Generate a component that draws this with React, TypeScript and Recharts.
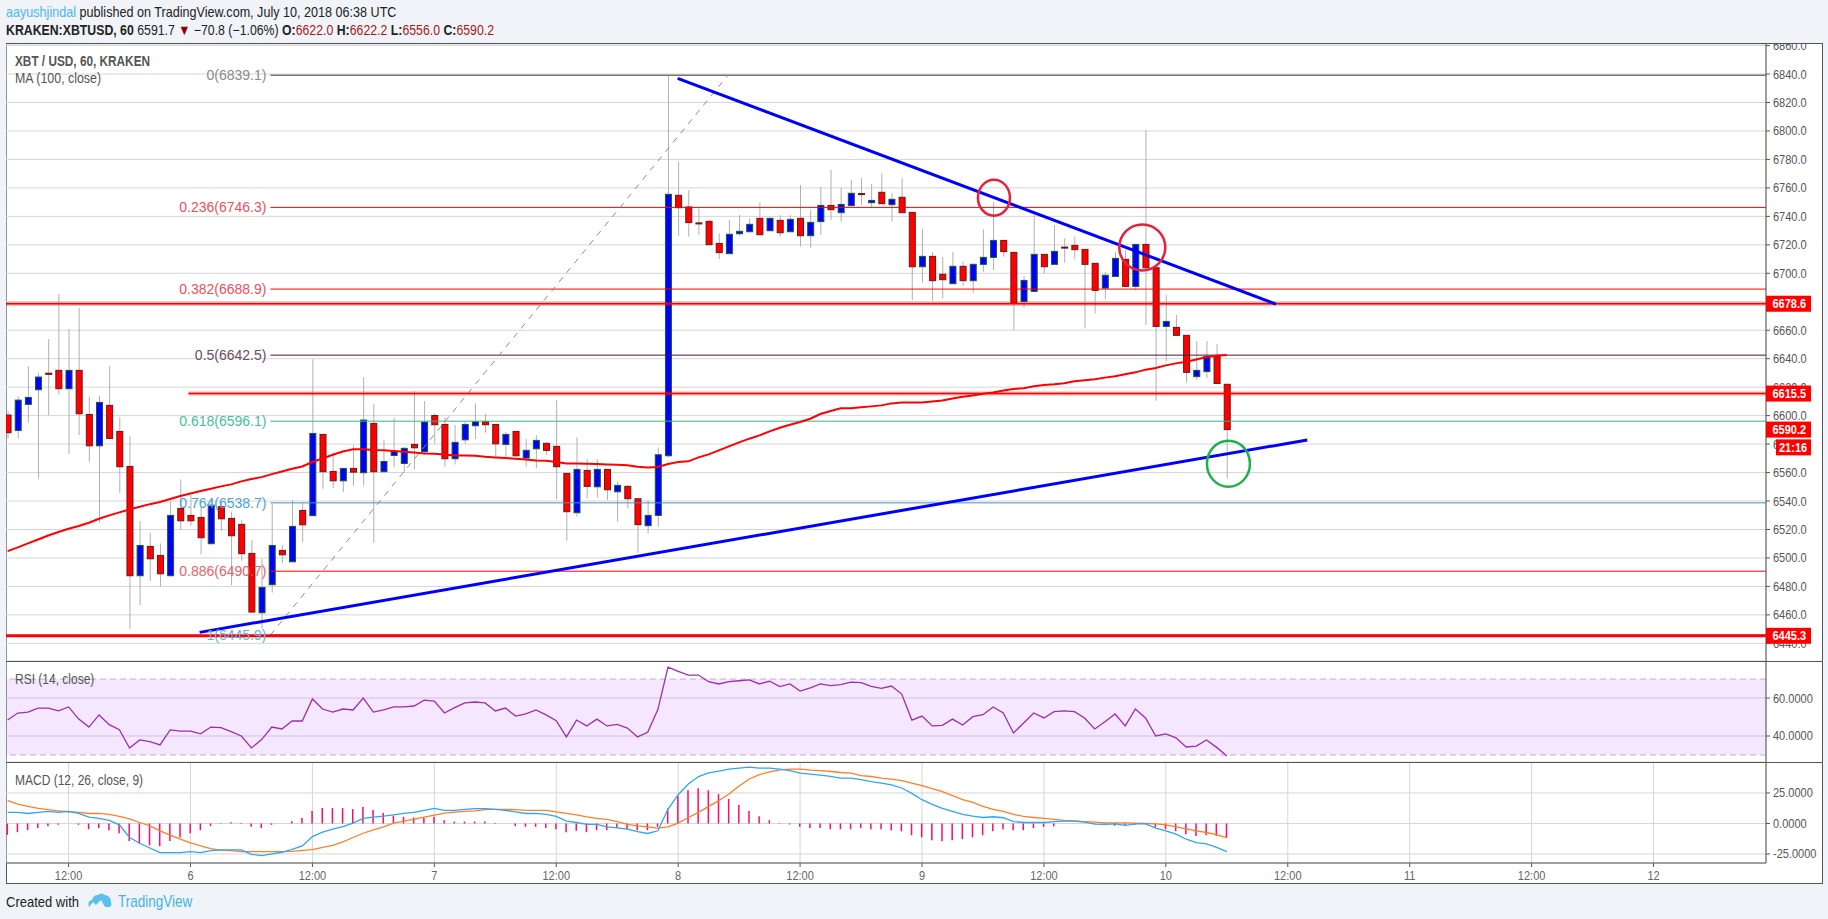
import { Bar, CartesianGrid, ComposedChart, Line, ReferenceArea, ReferenceDot, ReferenceLine, XAxis, YAxis } from 'recharts';

// hours counted from July 6 00:00, first candle is -18
const firstHour = -18;

const opens = [
  6600.4, 6589.6, 6607.9, 6618.2, 6629.8, 6631.8, 6618.9, 6631.8, 6600.8, 6578.8,
  6607.2, 6588.9, 6564.3, 6487.5, 6508.1, 6501.8, 6487.5, 6534.8, 6529.9, 6528.5,
  6510.0, 6536.0, 6527.8, 6523.6, 6503.2, 6461.5, 6481.2, 6505.3, 6497.3, 6533.4,
  6529.7, 6586.8, 6560.8, 6554.2, 6562.9, 6559.9, 6594.5, 6560.6, 6572.0, 6566.4,
  6579.8, 6574.6, 6600.1, 6593.8, 6569.7, 6583.0, 6592.9, 6595.7, 6593.8, 6579.8,
  6588.9, 6570.2, 6576.7, 6580.5, 6578.4, 6559.4, 6531.8, 6561.5, 6550.0, 6562.2,
  6546.5, 6550.3, 6541.6, 6522.7, 6529.9, 6571.8, 6754.8, 6746.6, 6735.4, 6736.5,
  6721.0, 6713.8, 6727.8, 6729.2, 6738.6, 6729.9, 6737.2, 6729.2, 6738.6, 6726.4,
  6736.3, 6747.7, 6742.6, 6747.5, 6756.0, 6749.6, 6756.9, 6748.2, 6753.4, 6742.8,
  6704.6, 6711.9, 6699.3, 6692.7, 6704.9, 6694.8, 6706.3, 6711.2, 6723.1, 6714.7,
  6680.1, 6687.3, 6713.3, 6706.3, 6718.4, 6719.6, 6716.8, 6707.0, 6689.6, 6697.8,
  6709.8, 6690.8, 6720.3, 6703.9, 6662.7, 6662.0, 6656.4, 6627.4, 6630.9, 6641.6, 6622.0,
];
const closes = [
  6588.0, 6610.9, 6612.8, 6627.1, 6629.0, 6618.9, 6631.8, 6601.3, 6578.8, 6609.3,
  6584.0, 6564.1, 6487.5, 6508.8, 6499.4, 6488.9, 6529.9, 6526.1, 6526.1, 6514.2,
  6537.1, 6527.5, 6515.6, 6503.0, 6462.0, 6479.3, 6508.8, 6502.2, 6522.2, 6523.3,
  6587.5, 6560.6, 6554.2, 6562.9, 6560.3, 6596.9, 6560.6, 6567.8, 6574.9, 6577.0,
  6577.4, 6595.5, 6593.6, 6569.7, 6581.2, 6593.8, 6595.7, 6593.6, 6580.2, 6586.8,
  6571.8, 6575.6, 6582.6, 6575.6, 6564.1, 6532.5, 6562.2, 6550.3, 6562.2, 6547.9,
  6551.0, 6541.6, 6523.4, 6529.9, 6572.5, 6755.5, 6746.1, 6735.6, 6734.8, 6720.1,
  6714.5, 6727.4, 6729.5, 6734.4, 6727.1, 6738.6, 6728.5, 6737.9, 6726.4, 6735.8,
  6747.7, 6744.7, 6748.4, 6756.2, 6755.4, 6751.2, 6748.9, 6752.0, 6742.6, 6704.6,
  6711.9, 6694.8, 6695.5, 6704.9, 6694.8, 6706.3, 6711.2, 6723.1, 6715.2, 6679.4,
  6695.0, 6713.3, 6704.6, 6715.4, 6718.0, 6716.6, 6706.3, 6688.0, 6698.6, 6710.5,
  6690.8, 6720.3, 6703.9, 6662.7, 6666.2, 6656.4, 6630.4, 6631.8, 6641.6, 6622.6, 6590.2,
];
const highs = [
  6603.0, 6613.7, 6634.8, 6629.7, 6653.8, 6685.4, 6660.8, 6675.6, 6613.3, 6614.0,
  6634.8, 6598.7, 6585.6, 6525.9, 6517.7, 6510.2, 6540.2, 6555.2, 6544.2, 6536.0,
  6540.7, 6538.3, 6532.5, 6526.6, 6512.6, 6499.4, 6538.3, 6509.0, 6540.7, 6539.0,
  6639.7, 6586.8, 6574.1, 6562.9, 6579.3, 6627.1, 6608.1, 6582.8, 6598.7, 6578.1,
  6617.2, 6610.2, 6601.6, 6598.7, 6593.4, 6595.7, 6608.6, 6601.6, 6593.8, 6588.7,
  6588.9, 6583.5, 6586.1, 6581.6, 6610.9, 6559.4, 6584.7, 6569.5, 6569.5, 6562.2,
  6553.6, 6551.2, 6541.6, 6540.7, 6577.7, 6839.1, 6778.2, 6758.5, 6745.6, 6737.4,
  6728.1, 6737.4, 6740.9, 6738.6, 6749.8, 6739.3, 6740.9, 6740.9, 6762.0, 6744.5,
  6760.8, 6772.6, 6760.2, 6765.5, 6766.9, 6762.7, 6770.2, 6756.2, 6766.9, 6742.8,
  6730.9, 6715.0, 6711.4, 6714.9, 6708.2, 6706.3, 6730.9, 6749.8, 6723.1, 6714.7,
  6698.1, 6740.9, 6713.3, 6733.9, 6724.6, 6725.7, 6716.8, 6707.0, 6700.9, 6714.9,
  6716.4, 6720.3, 6800.7, 6703.9, 6684.7, 6670.7, 6656.4, 6652.4, 6652.4, 6650.3, 6622.2,
];
const lows = [
  6584.0, 6583.8, 6595.0, 6555.9, 6600.4, 6615.1, 6573.0, 6586.3, 6567.6, 6525.0,
  6583.5, 6545.8, 6450.0, 6466.9, 6483.8, 6480.2, 6487.5, 6519.6, 6522.6, 6502.7,
  6510.0, 6518.9, 6480.9, 6498.0, 6461.5, 6450.5, 6475.6, 6496.2, 6497.3, 6511.2,
  6529.7, 6548.6, 6549.1, 6546.3, 6550.7, 6550.7, 6510.7, 6560.6, 6563.8, 6559.9,
  6562.4, 6572.7, 6580.5, 6564.1, 6565.7, 6580.5, 6583.5, 6588.0, 6570.4, 6571.1,
  6571.1, 6564.1, 6563.1, 6572.3, 6541.1, 6512.1, 6529.0, 6541.8, 6542.3, 6540.7,
  6525.4, 6534.8, 6503.7, 6517.3, 6522.0, 6570.7, 6726.4, 6725.7, 6726.9, 6720.1,
  6710.0, 6713.8, 6726.4, 6729.2, 6727.1, 6729.9, 6725.7, 6729.2, 6718.7, 6718.0,
  6726.9, 6737.4, 6736.3, 6747.5, 6748.0, 6746.1, 6748.9, 6736.3, 6742.6, 6681.2,
  6693.4, 6680.8, 6682.2, 6692.7, 6691.1, 6686.4, 6701.1, 6702.3, 6711.7, 6660.1,
  6675.8, 6687.3, 6699.9, 6706.3, 6707.5, 6709.8, 6661.3, 6671.9, 6681.7, 6697.8,
  6690.8, 6687.8, 6663.7, 6610.5, 6637.9, 6656.4, 6623.2, 6625.0, 6626.2, 6622.6, 6556.0,
];
const ma100 = [
  6504.8, 6507.4, 6510.2, 6513.0, 6515.8, 6518.2, 6520.5, 6522.4, 6524.7, 6527.5,
  6529.9, 6532.0, 6534.1, 6536.0, 6537.8, 6539.3, 6541.4, 6543.5, 6545.3, 6547.0,
  6548.6, 6550.3, 6551.7, 6553.8, 6555.4, 6556.8, 6558.9, 6560.8, 6562.7, 6564.3,
  6567.4, 6569.9, 6572.5, 6574.8, 6576.3, 6576.3, 6575.8, 6575.6, 6575.1, 6574.6,
  6574.1, 6573.4, 6573.2, 6572.7, 6572.0, 6572.0, 6571.8, 6571.1, 6570.6, 6570.2,
  6569.7, 6569.2, 6568.5, 6568.3, 6567.4, 6566.4, 6566.4, 6566.2, 6566.0, 6565.7,
  6565.5, 6565.1, 6564.1, 6563.6, 6563.9, 6566.0, 6567.4, 6567.9, 6570.7, 6572.8,
  6575.6, 6578.4, 6581.2, 6583.8, 6586.1, 6588.9, 6591.5, 6593.6, 6595.5, 6597.8,
  6601.1, 6603.2, 6605.1, 6605.1, 6605.8, 6606.5, 6607.2, 6608.6, 6609.3, 6609.3,
  6609.3, 6610.0, 6610.7, 6612.1, 6613.3, 6614.2, 6615.4, 6616.3, 6617.7, 6618.7,
  6619.2, 6620.6, 6621.5, 6622.0, 6622.7, 6624.1, 6624.8, 6625.5, 6626.7, 6627.6,
  6629.0, 6630.4, 6632.3, 6633.4, 6635.3, 6636.7, 6637.9, 6639.5, 6641.2, 6642.1, 6642.6,
];
const rsi14 = [
  48.4, 52.1, 52.6, 54.7, 54.7, 53.2, 55.3, 48.9, 44.7, 51.1,
  46.0, 43.3, 33.7, 37.9, 37.0, 35.3, 43.2, 42.6, 42.6, 41.1,
  44.7, 44.4, 42.3, 40.0, 33.7, 38.1, 44.7, 43.7, 47.9, 47.9,
  59.5, 54.2, 52.6, 54.2, 53.7, 60.0, 52.6, 53.7, 55.3, 55.3,
  55.8, 58.9, 58.4, 52.1, 54.9, 57.4, 57.9, 57.4, 53.2, 54.7,
  50.5, 51.6, 53.7, 51.1, 48.1, 39.5, 48.4, 45.3, 48.9, 45.3,
  46.1, 44.2, 39.5, 41.9, 53.9, 76.3, 74.0, 72.1, 72.1, 68.6,
  67.4, 68.6, 69.1, 69.6, 67.4, 68.9, 66.0, 67.4, 63.7, 65.4,
  67.4, 66.5, 67.0, 68.4, 68.1, 66.1, 65.1, 66.3, 62.1, 48.4,
  50.5, 45.3, 45.6, 48.9, 45.8, 50.2, 51.2, 55.3, 52.1, 41.6,
  46.8, 52.1, 49.5, 52.8, 53.2, 52.8, 49.5, 43.7, 47.5, 51.6,
  45.3, 54.2, 49.5, 40.0, 41.1, 39.0, 34.2, 34.7, 37.9, 34.0, 29.5,
];
const macdLine = [
  9.1, 9.1, 8.2, 9.1, 9.9, 9.1, 9.9, 8.2, 5.2, 4.1,
  2.5, -1.1, -11.5, -16.2, -20.1, -23.9, -23.9, -23.9, -23.1, -23.9,
  -22.3, -21.7, -21.7, -21.7, -25.3, -26.4, -25.0, -23.6, -21.2, -18.4,
  -10.7, -7.1, -4.7, -2.5, 0.3, 4.1, 5.2, 6.0, 7.1, 8.2,
  9.1, 10.7, 12.4, 10.7, 10.7, 11.5, 12.1, 12.1, 11.5, 10.7,
  9.6, 8.2, 8.2, 7.4, 5.8, 1.9, 0.8, -0.8, -0.8, -2.7,
  -3.6, -4.7, -6.6, -8.2, -6.0, 11.8, 23.6, 32.4, 38.5, 41.5,
  42.9, 44.5, 45.3, 46.2, 45.3, 45.3, 44.5, 43.4, 41.2, 40.4,
  39.6, 38.7, 37.1, 37.1, 36.0, 34.3, 33.0, 31.6, 29.1, 24.7,
  19.5, 15.7, 12.4, 9.9, 7.4, 6.0, 4.9, 5.5, 4.7, 1.6,
  0.8, 0.8, 0.8, 1.6, 1.9, 1.9, 1.1, -0.5, -0.8, -0.3,
  -1.6, -0.3, -0.3, -3.8, -6.0, -8.8, -12.9, -15.7, -16.8, -19.6, -23.1,
];
const signalLine = [
  18.7, 15.9, 14.0, 12.4, 11.3, 10.4, 9.6, 9.1, 8.2, 8.2,
  7.4, 5.8, 3.8, 0.8, -1.9, -6.0, -9.6, -12.9, -15.9, -18.4,
  -20.6, -22.0, -22.3, -23.1, -23.1, -23.1, -23.1, -23.1, -22.8, -22.0,
  -21.4, -19.5, -17.9, -15.1, -11.5, -8.0, -5.2, -2.7, 0.3, 1.9,
  3.6, 5.2, 6.9, 8.5, 9.3, 9.9, 10.4, 11.3, 11.5, 11.5,
  11.3, 10.7, 10.7, 10.7, 9.6, 8.2, 7.1, 5.5, 4.1, 3.3,
  1.6, -0.8, -1.9, -2.7, -3.8, -2.7, 0.3, 4.9, 9.1, 14.0,
  18.7, 24.2, 30.8, 36.5, 40.1, 42.3, 44.0, 44.5, 44.5, 43.7,
  43.4, 42.6, 41.8, 41.2, 39.3, 38.5, 37.1, 36.3, 35.2, 33.0,
  31.0, 28.6, 26.1, 22.8, 19.5, 17.3, 14.0, 11.5, 9.9, 7.4,
  5.8, 4.9, 4.1, 3.3, 2.5, 2.2, 1.6, 1.1, 0.5, 0.5,
  0.5, 0.3, 0, -0.3, -1.1, -2.7, -4.4, -6.0, -7.4, -9.1, -11.8,
];
const macdHist = [
  -9.3, -7.1, -5.5, -3.8, -2.2, -1.1, 0, -1.1, -4.7, -3.8,
  -5.5, -8.0, -14.3, -16.5, -17.9, -18.7, -14.3, -11.5, -8.0, -5.5,
  -2.2, 0.3, 1.1, 0.3, -2.7, -3.8, -1.1, 0, 1.9, 4.4,
  10.2, 12.6, 12.6, 12.6, 11.8, 13.5, 11.0, 8.5, 6.3, 5.5,
  4.9, 4.9, 5.5, 2.7, 1.6, 1.6, 1.6, 1.6, 0.3, 0,
  -2.2, -2.7, -2.7, -3.8, -4.7, -7.1, -6.0, -7.1, -5.5, -5.5,
  -3.8, -4.7, -5.5, -5.5, -2.7, 12.4, 22.8, 27.2, 28.8, 27.2,
  24.2, 20.1, 15.1, 10.2, 6.0, 2.7, 0.3, -0.8, -2.7, -3.8,
  -3.8, -4.7, -4.7, -4.7, -3.8, -4.7, -4.7, -5.5, -6.3, -9.6,
  -11.3, -13.7, -14.6, -13.7, -12.9, -11.3, -9.6, -6.3, -4.7, -5.5,
  -5.5, -3.8, -2.7, -2.2, 0, 0, 0, -0.3, -0.8, -1.9,
  -1.4, -1.1, 0, -3.0, -4.7, -6.3, -8.8, -10.2, -9.6, -10.2, -11.5,
];

const priceTicks = [6860, 6840, 6820, 6800, 6780, 6760, 6740, 6720, 6700, 6680, 6660, 6640, 6620, 6600, 6580, 6560, 6540, 6520, 6500, 6480, 6460, 6440];
const rsiTicks = [60, 40];
const macdTicks = [25, 0, -25];
const timeTicks = [-12, 0, 12, 24, 36, 48, 60, 72, 84, 96, 108, 120, 132, 144];
const timeLabels = ['12:00', '6', '12:00', '7', '12:00', '8', '12:00', '9', '12:00', '10', '12:00', '11', '12:00', '12'];

const fibRatios = ['0', '0.236', '0.382', '0.5', '0.618', '0.764', '0.886', '1'];
const fibPrices = [6839.1, 6746.3, 6688.9, 6642.5, 6596.1, 6538.7, 6490.7, 6445.9];
const FIB_COLORS = ['#787878', '#ff0000', '#ff0000', '#4a1440', '#35b58e', '#3a96c8', '#ff0000', '#5a7f9a'];
const FIB_TEXT = ['#8a8a8a', '#f0505a', '#f0505a', '#6d4a66', '#45c09a', '#4aa3d8', '#f0606a', '#64b0e0'];
const priceTags = [6678.6, 6615.5, 6590.2, 6445.3];

const rows = opens.map((open, i) => ({
  hour: firstHour + i,
  open,
  close: closes[i],
  high: highs[i],
  low: lows[i],
  ma: ma100[i],
  rsi: rsi14[i],
  macd: macdLine[i],
  signal: signalLine[i],
  hist: macdHist[i],
}));

const X_DOMAIN = [-18.16, 155.07];
const PRICE_DOMAIN = [6427.6, 6861.1];
const RSI_DOMAIN = [26.3, 79.5];
const MACD_DOMAIN = [-32.4, 50.4];
const CHART_WIDTH = 1816;
const AXIS_WIDTH = 56;
const GRID = '#d6d6d6';
const FRAME = '#555';
const FONT = '"Liberation Sans", Arial, sans-serif';

// the screenshot is squeezed sideways, so the text gets a small vertical stretch around its own baseline
const stretch = (y: number, s: number) => `translate(0 ${y * (1 - s)}) scale(1 ${s})`;

const Candle = (props: any) => {
  const { x, y, width, height, payload } = props;
  const { open, close, high, low } = payload;
  const perUnit = height / (high - low);
  const top = y + (high - Math.max(open, close)) * perUnit;
  const bodyHeight = Math.max(Math.abs(open - close) * perUnit, 1);
  const up = close >= open;
  const mid = x + width / 2;
  return (
    <g>
      <line x1={mid} x2={mid} y1={y} y2={y + height} stroke="#b0b0b0" strokeWidth={1} />
      <rect x={x + 0.5} y={top} width={width - 1} height={bodyHeight} fill={up ? '#0000ff' : '#ff0000'} stroke={up ? '#1d5a2c' : '#701414'} strokeWidth={1} />
    </g>
  );
};

const PriceTick = (props: any) => (
  <text x={props.x} y={props.y} transform={stretch(props.y, 1.17)} dy=".35em" fontFamily={FONT} fontSize={11} fill="#555">
    {props.decimals === 4 ? props.payload.value.toFixed(4) : props.payload.value.toFixed(1)}
  </text>
);

const TimeTick = (props: any) => (
  <text x={props.x} y={props.y + 7} transform={stretch(props.y + 7, 1.17)} dy=".35em" textAnchor="middle" fontFamily={FONT} fontSize={11} fill="#666">
    {timeLabels[timeTicks.indexOf(props.payload.value)]}
  </text>
);

const FibLabel = (props: any) => (
  <text x={props.cx - 4} y={props.cy} dy=".35em" textAnchor="end" fontFamily={FONT} fontSize={14} fill={props.color}>
    {props.text}
  </text>
);

const TagBox = (props: any) => {
  const inset = props.inset || 0;
  return (
    <g>
      <rect x={props.cx + inset} y={props.cy - 8} width={45 - inset} height={16} fill="#ff0000" />
      <text x={props.cx + inset + (inset ? 3 : 6.5)} y={props.cy} transform={stretch(props.cy, 1.17)} dy=".35em" fontFamily={FONT} fontSize={11} fontWeight="bold" fill="#fff">
        {props.text}
      </text>
    </g>
  );
};

const Ring = (props: any) => (
  <ellipse cx={props.cx} cy={props.cy} rx={props.rx} ry={props.ry} fill="none" stroke={props.color} strokeWidth={2.5} />
);

const hiddenX = (
  <XAxis type="number" dataKey="hour" scale="linear" domain={X_DOMAIN} allowDataOverflow ticks={timeTicks} interval={0} height={0} tick={false} axisLine={false} tickLine={false} />
);

const Caption = ({ top, left = 15, size = 12, weight = 'normal', color = '#555', children }: any) => (
  <div style={{ position: 'absolute', top, left, fontFamily: FONT, fontSize: size, fontWeight: weight, color, whiteSpace: 'nowrap', lineHeight: '16px', transform: 'scaleY(1.17)', transformOrigin: 'left center' }}>
    {children}
  </div>
);

const Rule = ({ top }: { top: number }) => (
  <div style={{ position: 'absolute', left: 6, top, width: 1816, height: 1, background: FRAME }} />
);

export default function App() {
  const red = '#a81818';
  return (
    <div style={{ position: 'absolute', left: 0, top: 0, width: 1828, height: 919, overflow: 'hidden', background: '#f0f3f7' }}>
      <Caption top={4} left={6} size={12.6} color="#222">
        <span style={{ color: '#4db8ea' }}>aayushjindal</span> published on TradingView.com, July 10, 2018 06:38 UTC
      </Caption>
      <Caption top={22} left={6} size={12.3} color="#222">
        <b>KRAKEN:XBTUSD, 60</b> 6591.7 <span style={{ color: '#8b0000' }}>▼</span> −70.8 (−1.06%) <b>O:</b><span style={{ color: red }}>6622.0</span> <b>H:</b><span style={{ color: red }}>6622.2</span> <b>L:</b><span style={{ color: red }}>6556.0</span> <b>C:</b><span style={{ color: red }}>6590.2</span>
      </Caption>

      <div style={{ position: 'absolute', left: 6, top: 43, width: 1815, height: 839, background: '#fff', border: `1px solid ${FRAME}` }} />

      <div style={{ position: 'absolute', left: 6, top: 44 }}>
        <ComposedChart width={CHART_WIDTH} height={617} data={rows} margin={{ top: 0, right: 0, bottom: 0, left: 0 }}>
          <CartesianGrid stroke={GRID} />
          {hiddenX}
          <YAxis orientation="right" width={AXIS_WIDTH} domain={PRICE_DOMAIN} allowDataOverflow ticks={priceTicks} interval={0} tickSize={4} tickMargin={3} stroke={FRAME} tick={<PriceTick />} />
          {fibPrices.map((price, i) => (
            <ReferenceLine key={price} segment={[{ x: 7.87, y: price }, { x: X_DOMAIN[1], y: price }]} stroke={FIB_COLORS[i]} strokeWidth={i === 0 ? 1.5 : 1} />
          ))}
          <ReferenceLine segment={[{ x: 7.87, y: 6445.9 }, { x: 52.9, y: 6839.1 }]} stroke="#8c8c8c" strokeDasharray="6 6" />
          <Bar dataKey={(d: any) => [d.low, d.high]} barSize={7} shape={<Candle />} isAnimationActive={false} />
          <Line dataKey="ma" stroke="#ff0000" strokeWidth={2} dot={false} activeDot={false} isAnimationActive={false} />
          <ReferenceLine y={6678.6} stroke="#ff0000" strokeOpacity={0.3} strokeWidth={4} />
          <ReferenceLine y={6678.6} stroke="#ff0000" strokeWidth={1.5} />
          <ReferenceLine segment={[{ x: -0.2, y: 6615.5 }, { x: X_DOMAIN[1], y: 6615.5 }]} stroke="#ff0000" strokeOpacity={0.3} strokeWidth={4} />
          <ReferenceLine segment={[{ x: -0.2, y: 6615.5 }, { x: X_DOMAIN[1], y: 6615.5 }]} stroke="#ff0000" strokeWidth={1.5} />
          <ReferenceLine y={6445.3} stroke="#ff0000" strokeWidth={3} />
          <ReferenceLine segment={[{ x: 47.95, y: 6837 }, { x: 106.84, y: 6678.4 }]} stroke="#0000ff" strokeWidth={3} />
          <ReferenceLine segment={[{ x: 0.9, y: 6447.7 }, { x: 109.92, y: 6582.9 }]} stroke="#0000ff" strokeWidth={3} />
          <ReferenceDot x={79.08} y={6753.1} shape={<Ring rx={16} ry={18} color="#e8203a" />} />
          <ReferenceDot x={93.68} y={6718.2} shape={<Ring rx={23} ry={23} color="#e8203a" />} />
          <ReferenceDot x={102.16} y={6566.2} shape={<Ring rx={21.5} ry={23} color="#1db04b" />} />
          {fibPrices.map((price, i) => (
            <ReferenceDot key={price} x={7.87} y={price} shape={<FibLabel text={`${fibRatios[i]}(${price.toFixed(1)})`} color={FIB_TEXT[i]} />} />
          ))}
        </ComposedChart>
      </div>

      <div style={{ position: 'absolute', left: 6, top: 661 }}>
        <ComposedChart width={CHART_WIDTH} height={101} data={rows} margin={{ top: 0, right: 0, bottom: 0, left: 0 }}>
          <CartesianGrid stroke={GRID} />
          {hiddenX}
          <YAxis orientation="right" width={AXIS_WIDTH} domain={RSI_DOMAIN} allowDataOverflow ticks={rsiTicks} interval={0} tickSize={4} tickMargin={3} stroke={FRAME} tick={<PriceTick decimals={4} />} />
          <ReferenceArea y1={30} y2={70} fill="#9915ff" fillOpacity={0.1} stroke="none" />
          <ReferenceLine y={70} stroke="#c0b0c8" strokeDasharray="6 4" />
          <ReferenceLine y={30} stroke="#c0b0c8" strokeDasharray="6 4" />
          <Line dataKey="rsi" stroke="#9c2fae" strokeWidth={1.3} dot={false} activeDot={false} isAnimationActive={false} />
        </ComposedChart>
      </div>

      <div style={{ position: 'absolute', left: 6, top: 762 }}>
        <ComposedChart width={CHART_WIDTH} height={134} data={rows} margin={{ top: 0, right: 0, bottom: 0, left: 0 }}>
          <CartesianGrid stroke={GRID} />
          <XAxis type="number" dataKey="hour" scale="linear" domain={X_DOMAIN} allowDataOverflow ticks={timeTicks} interval={0} height={33} tickSize={4} stroke={FRAME} tick={<TimeTick />} />
          <YAxis orientation="right" width={AXIS_WIDTH} domain={MACD_DOMAIN} allowDataOverflow ticks={macdTicks} interval={0} tickSize={4} tickMargin={3} stroke={FRAME} tick={<PriceTick decimals={4} />} />
          <Bar dataKey="hist" barSize={1.5} fill="#ff0a6c" isAnimationActive={false} />
          <Line dataKey="signal" stroke="#ff7f27" strokeWidth={1.3} dot={false} activeDot={false} isAnimationActive={false} />
          <Line dataKey="macd" stroke="#2ea6f5" strokeWidth={1.3} dot={false} activeDot={false} isAnimationActive={false} />
        </ComposedChart>
      </div>

      {/* price tags sit above the axis labels, so they get their own layer with the same scales */}
      <div style={{ position: 'absolute', left: 6, top: 44 }}>
        <ComposedChart width={CHART_WIDTH} height={617} data={rows} margin={{ top: 0, right: 0, bottom: 0, left: 0 }}>
          {hiddenX}
          <YAxis orientation="right" width={AXIS_WIDTH} domain={PRICE_DOMAIN} allowDataOverflow ticks={priceTicks} tick={false} axisLine={false} tickLine={false} />
          {priceTags.map((price) => (
            <ReferenceDot key={price} x={X_DOMAIN[1]} y={price} ifOverflow="visible" shape={<TagBox text={price.toFixed(1)} />} />
          ))}
          <ReferenceDot x={X_DOMAIN[1]} y={6577.7} ifOverflow="visible" shape={<TagBox text="21:16" inset={10} />} />
        </ComposedChart>
      </div>

      <Rule top={661} />
      <Rule top={762} />

      <Caption top={53} size={11.8} weight="bold">XBT / USD, 60, KRAKEN</Caption>
      <Caption top={70} size={12.4}>MA (100, close)</Caption>
      <Caption top={671}>RSI (14, close)</Caption>
      <Caption top={772}>MACD (12, 26, close, 9)</Caption>

      <Caption top={894} left={6} size={13} color="#222">Created with</Caption>
      <svg style={{ position: 'absolute', left: 88, top: 892 }} width={24} height={16} viewBox="0 0 24 16">
        <path d="M1 15 Q-1 9 4 8 Q5 3 10 3 Q13 0 17 3 Q23 4 23 10 Q24 13 22 15 L17 15 L13 8 L8 13 L5 10 Z" fill="#5cc0ec" />
      </svg>
      <Caption top={894} left={118} size={13.5} color="#45b3e8">TradingView</Caption>
    </div>
  );
}
